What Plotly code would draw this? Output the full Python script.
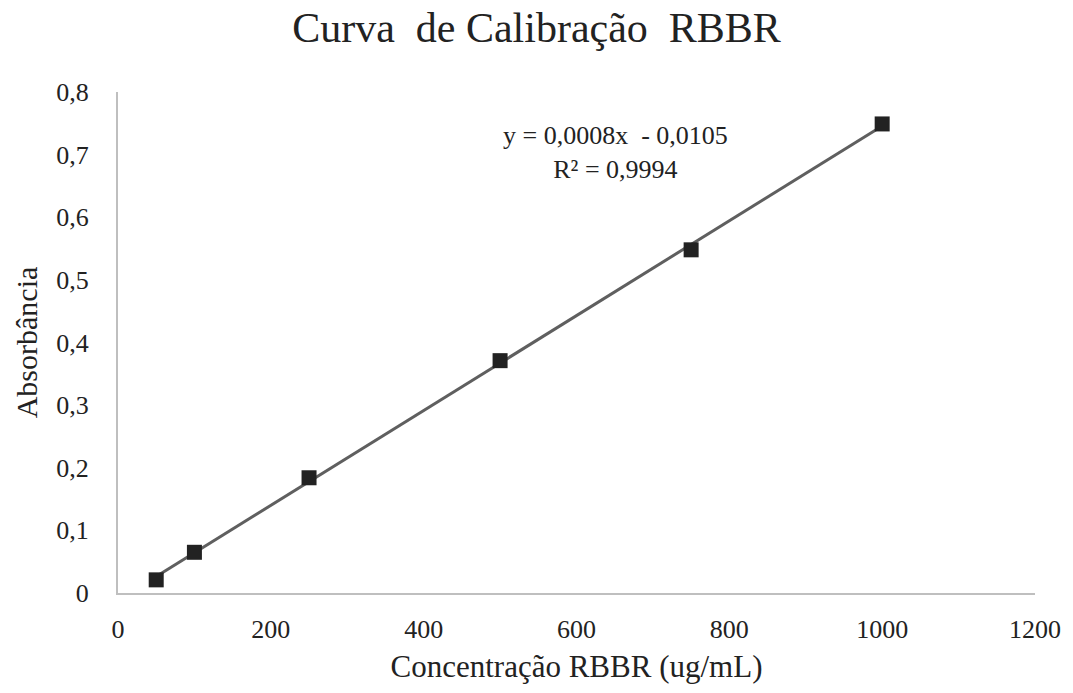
import numpy as np
import plotly.graph_objects as go

# Calibration standards: RBBR concentration (ug/mL) and measured absorbance
concentration = [50, 100, 250, 500, 750, 1000]
absorbance = [0.021, 0.065, 0.184, 0.371, 0.548, 0.749]

x_ticks = [0, 200, 400, 600, 800, 1000, 1200]
y_ticks = [0, 0.1, 0.2, 0.3, 0.4, 0.5, 0.6, 0.7, 0.8]

equation_text = "y = 0,0008x  - 0,0105<br>R² = 0,9994"

# Linear trend line fitted to the standards
slope, intercept = np.polyfit(concentration, absorbance, 1)
fit_x = np.array([min(concentration), max(concentration)])
fit_y = slope * fit_x + intercept

serif = "Liberation Serif, Times New Roman, serif"
ink = "#222222"

fig = go.Figure()
fig.add_trace(go.Scatter(
    x=fit_x, y=fit_y, mode="lines",
    line=dict(color="#5f5f5f", width=3),
    hoverinfo="skip", showlegend=False,
))
fig.add_trace(go.Scatter(
    x=concentration, y=absorbance, mode="markers",
    marker=dict(symbol="square", size=15, color=ink),
    showlegend=False,
))

fig.add_annotation(
    x=651, y=0.703, xref="x", yref="y",
    text=equation_text, showarrow=False,
    font=dict(family=serif, size=26, color=ink),
    align="center",
)

fig.update_layout(
    width=1073, height=693,
    margin=dict(l=118, r=36, t=92, b=100),
    paper_bgcolor="white", plot_bgcolor="white",
    separators=", ",
    font=dict(family=serif, color=ink),
    title=dict(
        text="Curva  de Calibração  RBBR",
        x=0.5, xanchor="center", y=0.96, yanchor="middle",
        font=dict(family=serif, size=42, color=ink),
    ),
)
fig.update_xaxes(
    range=[0, 1200], tickvals=x_ticks,
    showgrid=False, zeroline=False,
    showline=True, linecolor="#bfbfbf", linewidth=2,
    ticks="", tickfont=dict(family=serif, size=26, color=ink),
    ticklabelstandoff=12,
    title=dict(text="Concentração RBBR (ug/mL)", standoff=12,
               font=dict(family=serif, size=31, color=ink)),
)
fig.update_yaxes(
    range=[0, 0.8], tickvals=y_ticks,
    showgrid=False, zeroline=False,
    showline=True, linecolor="#bfbfbf", linewidth=2,
    ticks="", tickfont=dict(family=serif, size=26, color=ink),
    ticklabelstandoff=22,
    title=dict(text="Absorbância", standoff=10,
               font=dict(family=serif, size=30, color=ink)),
)

fig.write_html("out.html")
